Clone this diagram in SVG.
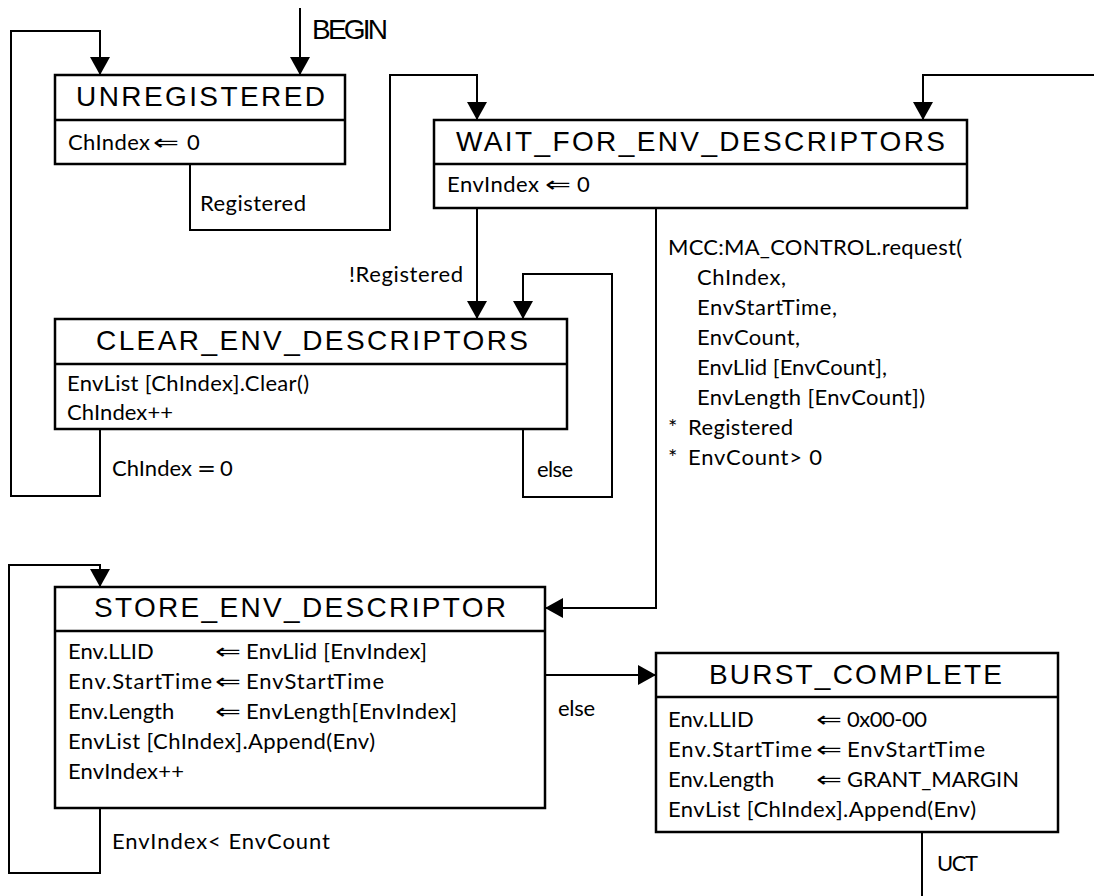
<svg xmlns="http://www.w3.org/2000/svg" width="1094" height="896" viewBox="0 0 1094 896">
<style>
.box{fill:#fff;stroke:#000;stroke-width:2.5}
.div{stroke:#000;stroke-width:2.5}
.ttl{font-family:"Liberation Sans",Arial,sans-serif;font-size:28px;fill:#000}
.bd{font-family:Lato,"Liberation Sans",sans-serif;font-size:22px;fill:#000}
.sym{font-family:"DejaVu Sans",sans-serif;font-size:22px;fill:#000}
.con{fill:none;stroke:#000;stroke-width:2;marker-end:url(#ah)}
.ln{fill:none;stroke:#000;stroke-width:2}
</style>
<defs>
<marker id="ah" markerUnits="userSpaceOnUse" markerWidth="18" markerHeight="20" refX="18" refY="10" orient="auto">
<path d="M0,0 L18,10 L0,20 z" fill="#000"/>
</marker>
</defs>
<rect width="1094" height="896" fill="#fff"/>
<g id="connectors">
<path class="con" d="M300,8 V75"/>
<path class="con" d="M100,429 V496 H11 V31 H100 V75"/>
<path class="con" d="M190,164 V230 H390 V75 H477 V120"/>
<path class="con" d="M1094,75 H923 V120"/>
<path class="con" d="M477,208 V319"/>
<path class="con" d="M523,429 V497 H612 V274 H523 V319"/>
<path class="con" d="M656,208 V608 H545"/>
<path class="con" d="M100,808 V873 H9 V565 H100 V587"/>
<path class="con" d="M545,675 H656"/>
<path class="ln" d="M922,832 V896"/>
<text class="ttl" x="312" y="39" font-size="22" textLength="76">BEGIN</text>
<text class="bd" x="200" y="211" textLength="106">Registered</text>
<text class="bd" x="349" y="282" textLength="114">!Registered</text>
<text class="bd" x="112" y="476" textLength="80">ChIndex</text><text class="sym" x="197" y="476" textLength="19" lengthAdjust="spacingAndGlyphs">=</text><text class="bd" x="220" y="476">0</text>
<text class="bd" x="537" y="477" textLength="36">else</text>
<text class="bd" x="668" y="255" textLength="294">MCC:MA_CONTROL.request(</text>
<text class="bd" x="697" y="285" textLength="89">ChIndex,</text>
<text class="bd" x="697" y="315" textLength="140">EnvStartTime,</text>
<text class="bd" x="697" y="345" textLength="103">EnvCount,</text>
<text class="bd" x="697" y="375" textLength="190">EnvLlid [EnvCount],</text>
<text class="bd" x="697" y="405" textLength="228">EnvLength [EnvCount])</text>
<text class="bd" x="668" y="435">*</text><text class="bd" x="688" y="435" textLength="105">Registered</text>
<text class="bd" x="668" y="465">*</text><text class="bd" x="688" y="465" textLength="134">EnvCount&gt; 0</text>
<text class="bd" x="112" y="849" textLength="218">EnvIndex&lt; EnvCount</text>
<text class="bd" x="558" y="716" textLength="37">else</text>
<text class="bd" x="937" y="871" textLength="41">UCT</text>
</g>
<g id="unregistered">
<rect class="box" x="55" y="75" width="290" height="89"/>
<line class="div" x1="55" y1="120" x2="345" y2="120"/>
<text class="ttl" x="76" y="106" textLength="249">UNREGISTERED</text>
<text class="bd" x="68" y="150" textLength="82">ChIndex</text><text class="sym" x="153" y="150" textLength="26" lengthAdjust="spacingAndGlyphs">⇐</text><text class="bd" x="187" y="150">0</text>
</g>
<g id="wait_for_env_descriptors">
<rect class="box" x="434" y="120" width="533" height="88"/>
<line class="div" x1="434" y1="164" x2="967" y2="164"/>
<text class="ttl" x="456" y="151" textLength="489">WAIT_FOR_ENV_DESCRIPTORS</text>
<text class="bd" x="447" y="192" textLength="92">EnvIndex</text><text class="sym" x="545" y="192" textLength="26" lengthAdjust="spacingAndGlyphs">⇐</text><text class="bd" x="577" y="192">0</text>
</g>
<g id="clear_env_descriptors">
<rect class="box" x="55" y="319" width="512" height="110"/>
<line class="div" x1="55" y1="364" x2="567" y2="364"/>
<text class="ttl" x="96" y="350" textLength="432">CLEAR_ENV_DESCRIPTORS</text>
<text class="bd" x="67" y="391" textLength="242">EnvList [ChIndex].Clear()</text>
<text class="bd" x="67" y="420" textLength="106">ChIndex++</text>
</g>
<g id="store_env_descriptor">
<rect class="box" x="55" y="587" width="490" height="221"/>
<line class="div" x1="55" y1="631" x2="545" y2="631"/>
<text class="ttl" x="94" y="617" textLength="412">STORE_ENV_DESCRIPTOR</text>
<text class="bd" x="68" y="659">Env.LLID</text><text class="sym" x="215" y="659" textLength="26" lengthAdjust="spacingAndGlyphs">⇐</text><text class="bd" x="246" y="659" textLength="181">EnvLlid [EnvIndex]</text>
<text class="bd" x="68" y="689" textLength="144">Env.StartTime</text><text class="sym" x="215" y="689" textLength="26" lengthAdjust="spacingAndGlyphs">⇐</text><text class="bd" x="246" y="689" textLength="138">EnvStartTime</text>
<text class="bd" x="68" y="719">Env.Length</text><text class="sym" x="215" y="719" textLength="26" lengthAdjust="spacingAndGlyphs">⇐</text><text class="bd" x="246" y="719" textLength="211">EnvLength[EnvIndex]</text>
<text class="bd" x="68" y="749" textLength="307">EnvList [ChIndex].Append(Env)</text>
<text class="bd" x="68" y="779" textLength="116">EnvIndex++</text>
</g>
<g id="burst_complete">
<rect class="box" x="656" y="653" width="402" height="179"/>
<line class="div" x1="656" y1="697" x2="1058" y2="697"/>
<text class="ttl" x="709" y="684" textLength="293">BURST_COMPLETE</text>
<text class="bd" x="668" y="727">Env.LLID</text><text class="sym" x="816" y="727" textLength="26" lengthAdjust="spacingAndGlyphs">⇐</text><text class="bd" x="847" y="727" textLength="80">0x00-00</text>
<text class="bd" x="668" y="757" textLength="144">Env.StartTime</text><text class="sym" x="816" y="757" textLength="26" lengthAdjust="spacingAndGlyphs">⇐</text><text class="bd" x="847" y="757" textLength="138">EnvStartTime</text>
<text class="bd" x="668" y="787">Env.Length</text><text class="sym" x="816" y="787" textLength="26" lengthAdjust="spacingAndGlyphs">⇐</text><text class="bd" x="847" y="787" textLength="172">GRANT_MARGIN</text>
<text class="bd" x="668" y="817" textLength="308">EnvList [ChIndex].Append(Env)</text>
</g>
</svg>
